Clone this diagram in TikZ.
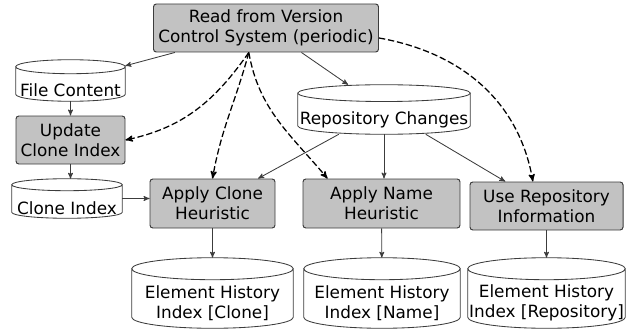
\documentclass[tikz,border=0pt]{standalone}
\usepackage{fontspec}
\setmainfont{DejaVu Sans}
\usetikzlibrary{arrows,calc}
\definecolor{boxgray}{RGB}{194,194,194}
\definecolor{linegray}{RGB}{60,60,60}

\begin{document}
\begin{tikzpicture}[
    ->,>=stealth',
    font=\fontsize{12}{14.2}\selectfont,
    step node/.style={rectangle, rounded corners=2pt, draw=linegray, fill=boxgray, line width=0.7pt, align=center, inner sep=1pt},
    store node/.style={rectangle, inner sep=0pt},
    store text/.style={align=center, yshift=-0.25cm, inner sep=0pt},
    store line/.style={-, draw=linegray, line width=0.6pt},
    flow/.style={linegray, line width=0.6pt},
    trigger/.style={black, line width=0.9pt, dash pattern=on 4.5pt off 2pt}
]
\useasboundingbox (0,0) rectangle (15.85,8.25);

% Nodes
\node[step node, minimum width=5.625cm, minimum height=1.2cm] at (6.65, 7.55) (read) {Read from Version\\Control System (periodic)};

\node[store node, minimum width=2.725cm, minimum height=1.025cm,
      label={[store text]center:File Content}] at (1.7625, 6.2375) (fcont) {};
\node[step node, minimum width=2.725cm, minimum height=1.2cm] at (1.7625, 4.75) (upd) {Update\\Clone Index};
\node[store node, minimum width=2.75cm, minimum height=0.975cm,
      label={[store text]center:Clone Index}] at (1.675, 3.2875) (cidx) {};

\node[store node, minimum width=4.3cm, minimum height=1.225cm,
      label={[store text]center:Repository Changes}] at (9.6, 5.5125) (rchg) {};

\node[step node, minimum width=3.125cm, minimum height=1.225cm] at (5.3125, 3.1625) (aclone) {Apply Clone\\Heuristic};
\node[step node, minimum width=3.925cm, minimum height=1.225cm] at (9.5375, 3.1625) (aname) {Apply Name\\Heuristic};
\node[step node, minimum width=3.825cm, minimum height=1.2cm] at (13.6625, 3.1) (urepo) {Use Repository\\Information};

\node[store node, minimum width=4.025cm, minimum height=1.75cm,
      label={[store text]center:Element History\\Index [Clone]}] at (5.3125, 0.925) (hclone) {};
\node[store node, minimum width=3.9cm, minimum height=1.75cm,
      label={[store text]center:Element History\\Index [Name]}] at (9.55, 0.925) (hname) {};
\node[store node, minimum width=3.925cm, minimum height=1.75cm,
      label={[store text]center:Element History\\Index [Repository]}] at (13.6625, 0.925) (hrepo) {};

% Cylinder outlines of the stores (name / half height of the cap)
\foreach \store/\capr in {fcont/0.175, cidx/0.15, rchg/0.21, hclone/0.275, hname/0.275, hrepo/0.275}
  \draw[store line] let \p1=(\store.north west), \p2=(\store.south east), \n1={(\x2-\x1)/2} in
    ($(\store.north)-(0,\capr)$) ellipse[x radius=\n1, y radius=\capr cm]
    (\x1,\y1-\capr cm) -- (\x1,\y2+\capr cm)
    arc[start angle=180, end angle=360, x radius=\n1, y radius=\capr cm]
    -- (\x2,\y1-\capr cm);

% Edges out of the version control system
\draw[flow] (read) -- (fcont);
\draw[flow] (read) -- (rchg);
\draw[trigger] (read.south) ++(-0.43,0) coordinate (rs) to[out=235, in=12] (upd.east);
\draw[trigger] (rs) to[out=255, in=80] (aclone.north);
\draw[trigger] (rs) to[out=280, in=130] ([xshift=-1.35cm]aname.north);
\draw[trigger] ([yshift=-0.25cm]read.east) to[out=-10, in=100] ([xshift=-0.34cm]urepo.north);

% Edges of the clone index
\draw[flow] (fcont) -- (upd);
\draw[flow] (upd) -- (upd |- cidx.north);
\draw[flow] (cidx) -- (cidx -| aclone.west);

% Edges out of the repository changes
\draw[flow] (rchg) -- (aclone);
\draw[flow] (rchg) -- (rchg |- aname.north);
\draw[flow] (rchg) -- (urepo);

% Edges to the history indices
\draw[flow] (aclone) -- (hclone);
\draw[flow] (aname) -- (hname);
\draw[flow] (urepo) -- (hrepo);

\end{tikzpicture}
\end{document}
